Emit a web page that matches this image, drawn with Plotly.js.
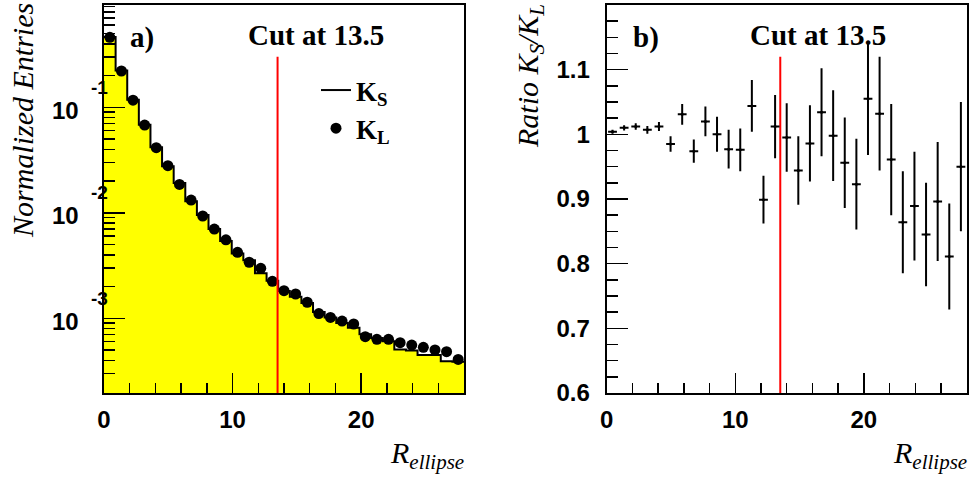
<!DOCTYPE html>
<html>
<head>
<meta charset="utf-8">
<script src="https://cdn.plot.ly/plotly-3.0.1.min.js"></script>
<style>html,body{margin:0;padding:0;background:#fff;}#chart{width:976px;height:480px;}</style>
</head>
<body>
<div id="chart"></div>
<script>
// ---- data ----
const histMin = 0;
const histMax = 28;
const cutValue = 13.5;

// Normalized entries per bin (31 bins from 0 to 28)
const ksValues = [0.463, 0.223, 0.118, 0.0684, 0.0419, 0.0276, 0.0192, 0.0129, 0.00952, 0.00702,
  0.00542, 0.00412, 0.00355, 0.00268, 0.00227, 0.00182, 0.00160, 0.00140, 0.00115, 0.00102,
  0.000901, 0.000815, 0.000707, 0.000652, 0.000607, 0.000507, 0.000496, 0.000449, 0.000449, 0.000392, 0.000388];
const klValues = [0.461, 0.221, 0.117, 0.0679, 0.0414, 0.0280, 0.0186, 0.0132, 0.00933, 0.00702,
  0.00555, 0.00422, 0.00340, 0.00298, 0.00224, 0.00183, 0.00170, 0.00142, 0.00111, 0.00102,
  0.000942, 0.000883, 0.000670, 0.000632, 0.000632, 0.000587, 0.000558, 0.000531, 0.000501, 0.000483, 0.000408];

// Ratio KS/KL per bin with errors
const ratioValues = [1.004, 1.010, 1.012, 1.007, 1.012, 0.985, 1.031, 0.974, 1.020, 1.000,
  0.977, 0.976, 1.044, 0.899, 1.012, 0.995, 0.944, 0.986, 1.034, 0.998,
  0.956, 0.923, 1.055, 1.032, 0.961, 0.864, 0.889, 0.845, 0.896, 0.811, 0.950];
const ratioErrors = [0.003, 0.004, 0.005, 0.006, 0.007, 0.012, 0.016, 0.018, 0.023, 0.027,
  0.030, 0.033, 0.040, 0.037, 0.049, 0.053, 0.053, 0.059, 0.068, 0.070,
  0.070, 0.070, 0.087, 0.088, 0.086, 0.079, 0.084, 0.080, 0.092, 0.082, 0.100];

// Tick labels
const xTickVals = [0, 10, 20];
const xTickLabels = ['0', '10', '20'];
const ratioTickVals = [0.6, 0.7, 0.8, 0.9, 1.0, 1.1, 1.2];
const ratioTickLabels = ['0.6', '0.7', '0.8', '0.9', '1', '1.1', '1.2'];
const logMajorTicks = [1e-3, 1e-2, 1e-1];
const logMajorExponents = ['-3', '-2', '-1'];

// ---- derived bin geometry ----
const nBins = ksValues.length;
const binW = (histMax - histMin) / nBins;
const centers = ksValues.map((_, i) => histMin + (i + 0.5) * binW);
const edges = Array.from({length: nBins + 1}, (_, i) => histMin + i * binW);
const stepY = ksValues.concat([ksValues[nBins - 1]]);

const logMinor = [];
[1e-4, 1e-3, 1e-2, 1e-1].forEach(d => { for (let k = 2; k <= 9; k++) logMinor.push(k * d); });

const W = 976, H = 480;
const serif = 'Liberation Serif, Times New Roman, serif';
const sans = 'Liberation Sans, Arial, Helvetica, sans-serif';
const tickFont = {family: sans, size: 24, color: '#000', weight: 'bold'};
const B = s => '<b>' + s + '</b>';

const traces = [
  {type: 'bar', x: centers, y: ksValues, width: binW, xaxis: 'x', yaxis: 'y',
   marker: {color: '#ffff00', line: {width: 0}}, showlegend: false, hoverinfo: 'skip'},
  {type: 'scatter', mode: 'lines', x: edges, y: stepY, xaxis: 'x', yaxis: 'y',
   line: {color: '#000', width: 2, shape: 'hv'}, name: '<b>K<sub>S</sub></b>', showlegend: true},
  {type: 'scatter', mode: 'markers', x: centers, y: klValues, xaxis: 'x', yaxis: 'y',
   marker: {color: '#000', size: 11, symbol: 'circle'}, name: '<b>K<sub>L</sub></b>', showlegend: true},
  {type: 'scatter', mode: 'lines', x: [cutValue, cutValue], y: [1e-4, 0.302], xaxis: 'x', yaxis: 'y',
   line: {color: '#ff0000', width: 2}, showlegend: false},
  {type: 'scatter', mode: 'lines', x: [cutValue, cutValue], y: [0.5, 1.120], xaxis: 'x2', yaxis: 'y2',
   line: {color: '#ff0000', width: 2}, showlegend: false},
  {type: 'scatter', mode: 'markers', x: centers, y: ratioValues, xaxis: 'x2', yaxis: 'y2',
   marker: {color: '#000', size: 3},
   error_y: {type: 'data', array: ratioErrors, visible: true, color: '#000', thickness: 2, width: 0},
   error_x: {type: 'constant', value: binW * 0.38, visible: true, color: '#000', thickness: 2, width: 0},
   showlegend: false}
];

const yDom = [(H - 393) / H, (H - 5) / H];
const xAxisCommon = {
  range: [histMin, histMax], showgrid: false, zeroline: false,
  showline: true, linecolor: '#000', linewidth: 2, mirror: true,
  ticks: 'inside', ticklen: 20, tickwidth: 1.5, tickcolor: '#000',
  tickmode: 'array', tickvals: xTickVals, ticktext: xTickLabels.map(B),
  minor: {ticks: 'inside', ticklen: 10, tickwidth: 1.5, tickcolor: '#000', tickmode: 'linear', tick0: 0, dtick: 2},
  tickfont: tickFont, ticklabelstandoff: 4
};

const ann = [];
logMajorTicks.forEach((v, i) => {
  ann.push({xref: 'paper', yref: 'y', x: 81 / W, y: Math.log10(v), xanchor: 'right', yanchor: 'middle',
    text: B('10'), showarrow: false, yshift: -3, font: tickFont});
  ann.push({xref: 'paper', yref: 'y', x: 99 / W, y: Math.log10(v), xanchor: 'center', yanchor: 'middle',
    text: B(logMajorExponents[i]), showarrow: false, yshift: 20, font: {family: sans, size: 19, color: '#000', weight: 'bold'}});
});
const pt = (x, y) => ({x: x / W, y: 1 - y / H});
const txt = (x, y, text, font, extra) => Object.assign({xref: 'paper', yref: 'paper', xanchor: 'center', yanchor: 'middle',
  showarrow: false, text: text, font: font}, pt(x, y), extra || {});
const titleFont = {family: serif, size: 29, color: '#000'};
ann.push(txt(142, 37, B('a)'), titleFont));
ann.push(txt(316, 35, B('Cut at 13.5'), titleFont));
ann.push(txt(646, 37, B('b)'), titleFont));
ann.push(txt(818, 35, B('Cut at 13.5'), titleFont));
ann.push(txt(22, 121, '<i>Normalized Entries</i>', {family: serif, size: 30, color: '#000'}, {textangle: -90}));
ann.push(txt(530, 76, '<i>Ratio K<sub>S</sub>/K<sub>L</sub></i>', {family: serif, size: 30, color: '#000'}, {textangle: -90}));
ann.push(txt(466, 455, '<i>R<sub>ellipse</sub></i>', {family: serif, size: 30, color: '#000'}, {xanchor: 'right'}));
ann.push(txt(969, 455, '<i>R<sub>ellipse</sub></i>', {family: serif, size: 30, color: '#000'}, {xanchor: 'right'}));

const layout = {
  width: W, height: H,
  margin: {l: 0, r: 0, t: 0, b: 0},
  paper_bgcolor: '#fff', plot_bgcolor: '#fff',
  bargap: 0,
  showlegend: true,
  legend: {x: 316 / W, y: 1 - 66 / H, xanchor: 'left', yanchor: 'top', bgcolor: 'rgba(0,0,0,0)',
    font: {family: serif, size: 27, color: '#000'}, tracegroupgap: 0},
  xaxis: Object.assign({}, xAxisCommon, {domain: [104 / W, 464 / W], anchor: 'y'}),
  yaxis: {domain: yDom, anchor: 'x', type: 'log', range: [-3.708, -0.030],
    showgrid: false, zeroline: false, showline: true, linecolor: '#000', linewidth: 2, mirror: true,
    ticks: 'inside', ticklen: 21, tickwidth: 1.5, tickcolor: '#000',
    tickmode: 'array', tickvals: logMajorTicks, showticklabels: false,
    minor: {ticks: 'inside', ticklen: 11, tickwidth: 1.5, tickcolor: '#000', tickmode: 'array', tickvals: logMinor}},
  xaxis2: Object.assign({}, xAxisCommon, {domain: [606.7 / W, 966.7 / W], anchor: 'y2'}),
  yaxis2: {domain: yDom, anchor: 'x2', range: [0.6, 1.2],
    showgrid: false, zeroline: false, showline: true, linecolor: '#000', linewidth: 2, mirror: true,
    ticks: 'inside', ticklen: 21, tickwidth: 1.5, tickcolor: '#000',
    tickmode: 'array', tickvals: ratioTickVals, ticktext: ratioTickLabels.map(B),
    tickfont: tickFont, ticklabelstandoff: 10,
    minor: {ticks: 'inside', ticklen: 11, tickwidth: 1.5, tickcolor: '#000', tickmode: 'linear', tick0: 0.6, dtick: 0.025}},
  annotations: ann
};

Plotly.newPlot('chart', traces, layout, {displayModeBar: false, staticPlot: true});
</script>
</body>
</html>
